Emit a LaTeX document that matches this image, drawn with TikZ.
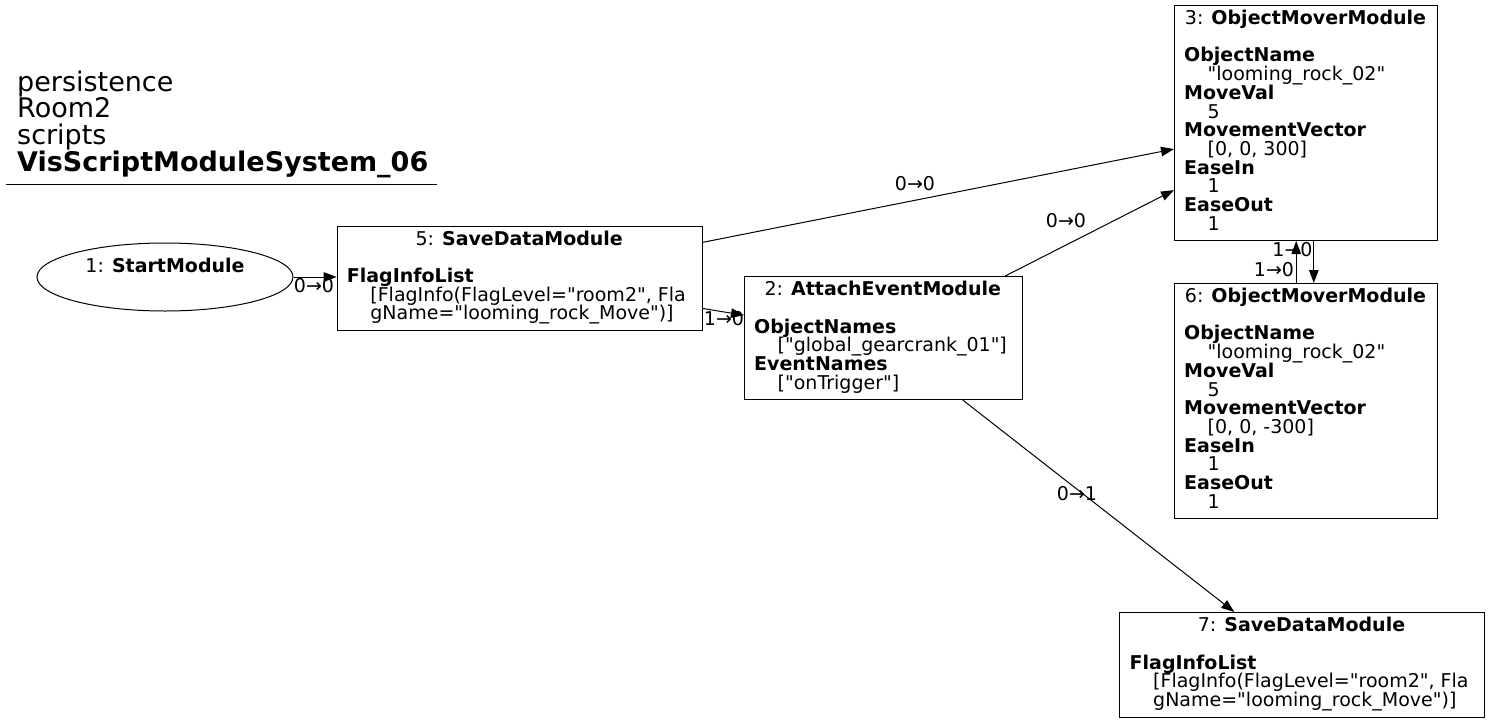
\documentclass[tikz,border=0pt]{standalone}
\usepackage{fontspec}
\setmainfont{DejaVu Sans}[Ligatures=TeXOff]
\usetikzlibrary{arrows.meta,shapes.geometric,calc}

\tikzset{
  box/.style={draw, line width=1pt, inner sep=0pt, anchor=north west},
  oval/.style={draw, ellipse, line width=1pt, inner sep=0pt},
  txt/.style={inner sep=0pt, anchor=base west, font=\fontsize{19}{19}\selectfont},
  ttl/.style={inner sep=0pt, anchor=base, font=\fontsize{19}{19}\selectfont},
  elabel/.style={inner sep=0pt, anchor=base, font=\fontsize{19}{19}\selectfont},
  head/.style={inner sep=0pt, anchor=base west, font=\fontsize{27}{27}\selectfont},
  edge/.style={line width=1pt, -{Triangle[length=13pt,width=9.5pt]}},
}

% one bold field name and one indented value line
\newcommand\keyrow[4]{\node[txt] (#1) at (#2,#3) {\bfseries #4};}
\newcommand\valrow[4]{\node[txt] (#1) at (#2,#3) {#4};}

\begin{document}
\begin{tikzpicture}[x=1pt,y=-1pt]
\useasboundingbox (0,0) rectangle (1489,723);

% heading
\node[head] (h1) at (17,91) {persistence};
\node[head] (h2) at (17,117.7) {Room2};
\node[head] (h3) at (17,144.4) {scripts};
\node[head] (h4) at (17,171) {\bfseries VisScriptModuleSystem\_06};
\draw[line width=1pt] (6,184) -- (437,184);

% 1: StartModule
\node[oval, minimum width=256, minimum height=68] (n1) at (165,277) {};
\node[ttl] (n1t) at (165,272) {1: \textbf{StartModule}};

% 5: SaveDataModule
\node[box, minimum width=365, minimum height=104] (n5) at (336.7,226) {};
\node[ttl] (n5t) at (519.2,245.7) {5: \textbf{SaveDataModule}};
\keyrow{n5a}{346.7}{282.5}{FlagInfoList}
\valrow{n5b}{370.2}{301.2}{[FlagInfo(FlagLevel="room2", Fla}
\valrow{n5c}{370.2}{319.9}{gName="looming\_rock\_Move")]}

% 2: AttachEventModule
\node[box, minimum width=277.7, minimum height=123] (n2) at (744,276) {};
\node[ttl] (n2t) at (882.8,295.7) {2: \textbf{AttachEventModule}};
\keyrow{n2a}{754}{333}{ObjectNames}
\valrow{n2b}{777.5}{351.7}{["global\_gearcrank\_01"]}
\keyrow{n2c}{754}{370.4}{EventNames}
\valrow{n2d}{777.5}{389}{["onTrigger"]}

% 3: ObjectMoverModule
\node[box, minimum width=263, minimum height=235] (n3) at (1174,5) {};
\node[ttl] (n3t) at (1305.5,24.7) {3: \textbf{ObjectMoverModule}};
\keyrow{n3a}{1184}{61.9}{ObjectName}
\valrow{n3b}{1207.5}{80.6}{"looming\_rock\_02"}
\keyrow{n3c}{1184}{99.3}{MoveVal}
\valrow{n3d}{1207.5}{118}{5}
\keyrow{n3e}{1184}{136.6}{MovementVector}
\valrow{n3f}{1207.5}{155.3}{[0, 0, 300]}
\keyrow{n3g}{1184}{174}{EaseIn}
\valrow{n3h}{1207.5}{192.7}{1}
\keyrow{n3i}{1184}{211.4}{EaseOut}
\valrow{n3j}{1207.5}{230}{1}

% 6: ObjectMoverModule
\node[box, minimum width=263, minimum height=235] (n6) at (1174,283) {};
\node[ttl] (n6t) at (1305.5,302.7) {6: \textbf{ObjectMoverModule}};
\keyrow{n6a}{1184}{339.9}{ObjectName}
\valrow{n6b}{1207.5}{358.6}{"looming\_rock\_02"}
\keyrow{n6c}{1184}{377.3}{MoveVal}
\valrow{n6d}{1207.5}{396}{5}
\keyrow{n6e}{1184}{414.6}{MovementVector}
\valrow{n6f}{1207.5}{433.3}{[0, 0, -300]}
\keyrow{n6g}{1184}{452}{EaseIn}
\valrow{n6h}{1207.5}{470.7}{1}
\keyrow{n6i}{1184}{489.4}{EaseOut}
\valrow{n6j}{1207.5}{508}{1}

% 7: SaveDataModule
\node[box, minimum width=365, minimum height=105] (n7) at (1119,612) {};
\node[ttl] (n7t) at (1301.5,631.7) {7: \textbf{SaveDataModule}};
\keyrow{n7a}{1129.5}{669}{FlagInfoList}
\valrow{n7b}{1153}{687.7}{[FlagInfo(FlagLevel="room2", Fla}
\valrow{n7c}{1153}{706.4}{gName="looming\_rock\_Move")]}

% connectors
\draw[edge] (n1.east) -- (n1.east -| n5.west);
\draw[edge] (n5) -- (n2);
\draw[edge] (n5) -- (n3);
\draw[edge] (n2) -- (n3);
\draw[edge] (n2) -- (n7);
\draw[edge] ([xshift=7.8]n3.south) -- ([xshift=7.8]n6.north);
\draw[edge] ([xshift=-9.8]n6.north) -- ([xshift=-9.8]n3.south);

% connector labels
\node[elabel] (l15) at (314,292) {0→0};
\node[elabel] (l52) at (724,325) {1→0};
\node[elabel] (l53) at (915,190) {0→0};
\node[elabel] (l23) at (1066,227) {0→0};
\node[elabel] (l36) at (1292.5,256.7) {1→0};
\node[elabel] (l63) at (1274,276) {1→0};
\node[elabel] (l27) at (1077,500) {0→1};
\end{tikzpicture}
\end{document}
